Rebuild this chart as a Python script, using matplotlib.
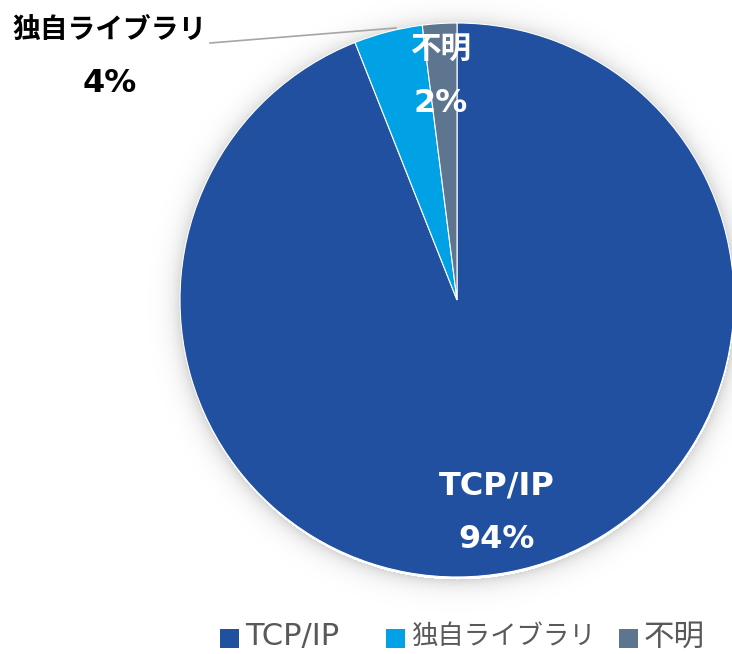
import numpy as np
import matplotlib.pyplot as plt
from matplotlib.patches import Rectangle

plt.rcParams['font.family'] = ['DejaVu Sans', 'Noto Sans CJK JP']

labels = ['TCP/IP', '独自ライブラリ', '不明']
shares = [94, 4, 2]
colors = ['#2150A0', '#00A2E6', '#5E7590']

W, H = 732, 654
cx, cy, r = 457, 300, 277


def py(y):
    # pixel row (from top) to data y
    return H - y


fig = plt.figure(figsize=(W / 100, H / 100), dpi=100)
ax = fig.add_axes([0, 0, 1, 1])

# soft shadow around the pie
yy, xx = np.mgrid[0:H, 0:W]
d = np.hypot(xx - cx, yy - cy - 2) - r
alpha = np.where(d > 0, 0.16 * np.exp(-d / 9.0), 0.0)
shade = np.zeros((H, W, 4))
shade[..., 3] = alpha
ax.imshow(shade, extent=(0, W, 0, H), origin='upper', zorder=0)

wedges, _ = ax.pie(shares, colors=colors, startangle=90, counterclock=False,
                   center=(cx, py(cy)), radius=r, frame=True,
                   wedgeprops=dict(edgecolor='white', linewidth=0.8))
for w in wedges:
    w.set_zorder(2)
ax.set_xlim(0, W)
ax.set_ylim(0, H)
ax.set_aspect('equal')
ax.axis('off')

bold = dict(fontweight='bold', ha='center', va='center', zorder=3)
ax.text(497, py(486), labels[0], color='white', fontsize=23, **bold)
ax.text(497, py(539), f'{shares[0]}%', color='white', fontsize=23, **bold)
ax.text(441, py(50), labels[2], color='white', fontsize=22, **bold)
ax.text(441, py(103), f'{shares[2]}%', color='white', fontsize=23, **bold)
ax.text(110, py(30), labels[1], color='black', fontsize=20, **bold)
ax.text(110, py(83), f'{shares[1]}%', color='black', fontsize=23, **bold)
ax.plot([210, 396], [py(43), py(28)], color='#A6A6A6', lw=1.2, zorder=3)

# legend row along the bottom
leg_x = [220, 386, 619]
leg_size = [22, 19, 22]
for x, lab, c, fs in zip(leg_x, labels, colors, leg_size):
    ax.add_patch(Rectangle((x, py(648)), 19, 19, facecolor=c, edgecolor='none', zorder=3))
    ax.text(x + 25, py(637), lab, color='#595959', fontsize=fs,
            ha='left', va='center', zorder=3)

fig.savefig('out.png', dpi=100, facecolor='white')
